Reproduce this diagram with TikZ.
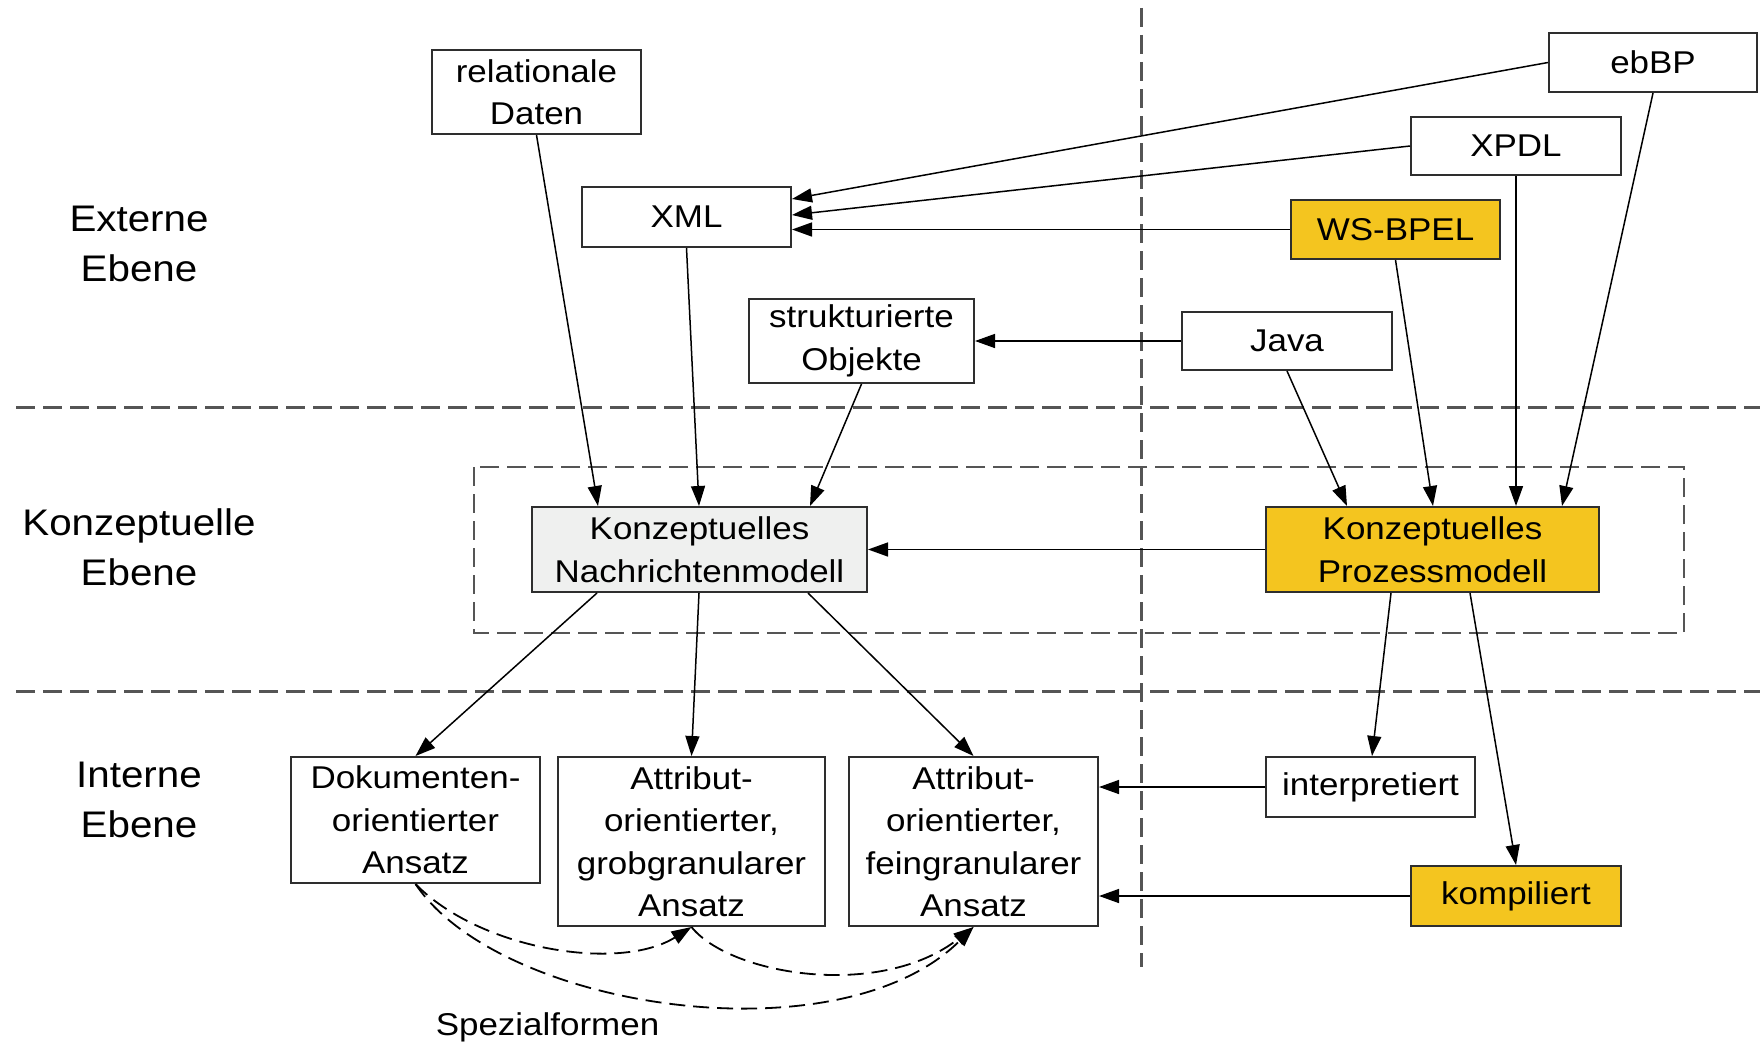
\documentclass[tikz,border=0pt]{standalone}
\usepackage{fontspec}
\setmainfont[FakeStretch=1.11]{Liberation Sans}
\newfontfamily\levelfont[FakeStretch=1.09]{Liberation Sans}
\usetikzlibrary{arrows.meta,calc}
\definecolor{gold}{HTML}{F4C51F}
\definecolor{paleGray}{HTML}{EFF0EF}
\definecolor{ruleGray}{HTML}{555555}

\begin{document}
\begin{tikzpicture}[x=1pt,y=-1pt,
  box/.style={draw=black!82, line width=2pt, fill=white, inner sep=0pt,
    align=center, font=\fontsize{31.5}{42.5}\selectfont},
  hot/.style={box, fill=gold},
  grey/.style={box, fill=paleGray},
  level/.style={align=center, inner sep=0pt, font=\levelfont\fontsize{37}{50}\selectfont},
  conn/.style={draw=black, line width=1.5pt, -{Triangle[length=20pt,width=14pt]}},
  divider/.style={draw=ruleGray, line width=3pt, dash pattern=on 19pt off 8pt},
  frame/.style={draw=ruleGray, line width=2.6pt, dash pattern=on 19pt off 8pt},
  special/.style={draw=black, line width=1.8pt, dash pattern=on 16pt off 8pt,
    -{Triangle[length=20pt,width=14pt]}}]

\useasboundingbox (0,0) rectangle (1760,1041);

% layer dividers and the conceptual frame
\coordinate (hA1) at (16,407);   \coordinate (hA2) at (1760,407);
\coordinate (hB1) at (16,691);   \coordinate (hB2) at (1760,691);
\coordinate (vT) at (1141,8);    \coordinate (vB) at (1141,967);
\draw[divider] (hA1) -- (hA2);
\draw[divider] (hB1) -- (hB2);
\draw[divider] (vT) -- (vB);
\draw[frame] (474,467) rectangle (1684,633);

% level names
\node[level] (lext) at (139,244) {Externe\\Ebene};
\node[level] (lkon) at (139,547) {Konzeptuelle\\Ebene};
\node[level] (lint) at (139,800) {Interne\\Ebene};

% external formats
\node[box, minimum width=209pt, minimum height=84pt] (rel) at (536.5,92) {relationale\\Daten};
\node[box, minimum width=209pt, minimum height=60pt] (xml) at (686.5,217) {XML};
\node[box, minimum width=225pt, minimum height=84pt] (strukt) at (861.5,341) {strukturierte\\Objekte};
\node[box, minimum width=208pt, minimum height=59pt] (ebbp) at (1653,62.5) {ebBP};
\node[box, minimum width=210pt, minimum height=58pt] (xpdl) at (1516,146) {XPDL};
\node[hot, minimum width=209pt, minimum height=59pt] (bpel) at (1395.5,229.5) {WS-BPEL};
\node[box, minimum width=210pt, minimum height=58pt] (java) at (1287,341) {Java};

% conceptual models
\node[grey, minimum width=335pt, minimum height=85pt] (nachr) at (699.5,549.5) {Konzeptuelles\\Nachrichtenmodell};
\node[hot, minimum width=333pt, minimum height=85pt] (proz) at (1432.5,549.5) {Konzeptuelles\\Prozessmodell};

% internal approaches
\node[box, minimum width=249pt, minimum height=126pt] (dok) at (415.5,820) {Dokumenten-\\orientierter\\Ansatz};
\node[box, minimum width=267pt, minimum height=169pt] (grob) at (691.5,841.5) {Attribut-\\orientierter,\\grobgranularer\\Ansatz};
\node[box, minimum width=249pt, minimum height=169pt] (fein) at (973.5,841.5) {Attribut-\\orientierter,\\feingranularer\\Ansatz};
\node[box, minimum width=209pt, minimum height=60pt] (interp) at (1370.5,787) {interpretiert};
\node[hot, minimum width=210pt, minimum height=60pt] (kompi) at (1516,896) {kompiliert};

% external level to conceptual level
\draw[conn] (rel.south) -- (598,0 |- nachr.north);
\draw[conn] (xml.south) -- (699,0 |- nachr.north);
\draw[conn] (strukt.south) -- (810,0 |- nachr.north);
\draw[conn] (ebbp.west) -- (xml.east |- 0,199);
\draw[conn] (xpdl.west) -- (xml.east |- 0,215);
\draw[conn] (bpel.west) -- (xml.east |- bpel.west);
\draw[conn] (java.west) -- (strukt.east |- java.west);
\draw[conn] (ebbp.south) -- (1562,0 |- proz.north);
\draw[conn] (xpdl.south) -- (xpdl.south |- proz.north);
\draw[conn] (bpel.south) -- (1433,0 |- proz.north);
\draw[conn] (java.south) -- (1347,0 |- proz.north);
\draw[conn] (proz.west) -- (nachr.east);

% conceptual level to internal level
\draw[conn] (597,0 |- nachr.south) -- (dok.north);
\draw[conn] (699,0 |- nachr.south) -- (grob.north);
\draw[conn] (808,0 |- nachr.south) -- (fein.north);
\draw[conn] (1391,0 |- proz.south) -- (1372,0 |- interp.north);
\draw[conn] (1470,0 |- proz.south) -- (kompi.north);
\draw[conn] (interp.west) -- (fein.east |- interp.west);
\draw[conn] (kompi.west) -- (fein.east |- kompi.west);

% special forms
\draw[special] (dok.south) .. controls (480,950) and (620,972) .. (grob.south);
\draw[special] (dok.south) .. controls (500,1010) and (840,1060) .. (fein.south);
\draw[special] (grob.south) .. controls (730,975) and (880,1000) .. (fein.south);
\node[anchor=base, inner sep=0pt, font=\fontsize{31.5}{42.5}\selectfont] (spez) at (547.5,1035) {Spezialformen};

\end{tikzpicture}
\end{document}
